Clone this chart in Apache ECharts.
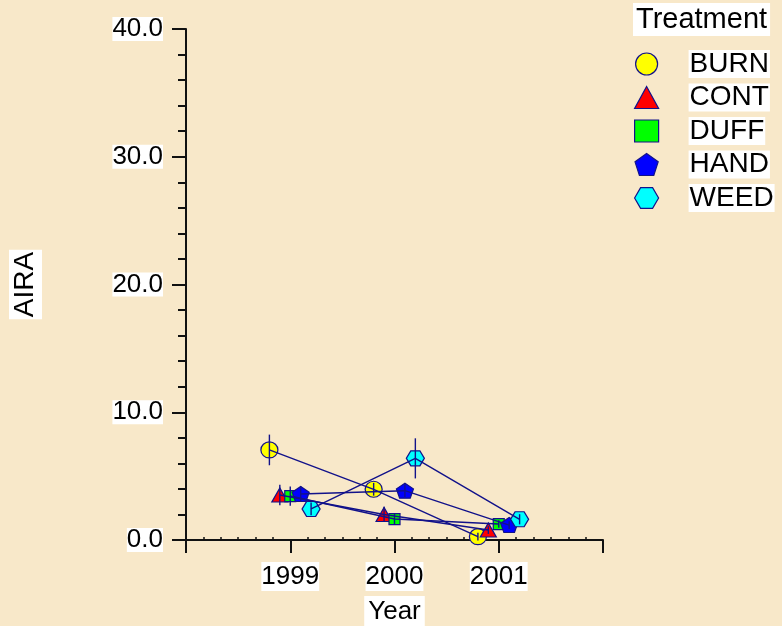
<!DOCTYPE html>
<html><head><meta charset="utf-8">
<script src="https://cdn.jsdelivr.net/npm/echarts@6/dist/echarts.min.js"></script>
<style>html,body{margin:0;padding:0;background:#f8e8c9;}#c{width:782px;height:626px;}</style>
</head><body><div id="c"></div>
<script>
// ---- data ----
const years = [1999, 2000, 2001];
const treatments = ['BURN', 'CONT', 'DUFF', 'HAND', 'WEED'];
const BURN = [7.05, 3.97, 0.26];
const CONT = [3.52, 2.0, 0.78];
const DUFF = [3.44, 1.64, 1.25];
const HAND = [3.6, 3.86, 1.17];
const WEED = [2.43, 6.39, 1.62];
const BURN_err = [1.2, 0.5, 0.3];
const CONT_err = [0.8, 0.6, 0.3];
const DUFF_err = [0.75, 0.4, 0.3];
const HAND_err = [0.6, 0.5, 0.3];
const WEED_err = [0.5, 1.57, 0.4];
const yTicks = [0, 10, 20, 30, 40];
const xTickLabels = ['1999', '2000', '2001'];

const values = {BURN, CONT, DUFF, HAND, WEED};
const errs = {BURN: BURN_err, CONT: CONT_err, DUFF: DUFF_err, HAND: HAND_err, WEED: WEED_err};
const dodge = {BURN: -0.2, CONT: -0.1, DUFF: 0, HAND: 0.1, WEED: 0.2};
const colors = {BURN: '#ffff00', CONT: '#ff0000', DUFF: '#00ff00', HAND: '#0000ff', WEED: '#00ffff'};
const PENT = 'path://M50,0L100,36L81,95L19,95L0,36Z';
const HEX = 'path://M0,43L25,0L75,0L100,43L75,86L25,86Z';
const symbols = {BURN: 'circle', CONT: 'triangle', DUFF: 'rect', HAND: PENT, WEED: HEX};
const sizes = {BURN: [17, 16], CONT: [16, 14], DUFF: [11, 11], HAND: [17, 15], WEED: [18, 15]};
const NAVY = '#12128a';
const FONT = '"Liberation Sans", Arial, sans-serif';

const series = [];
treatments.forEach(t => {
  const pts = years.map((y, i) => [y + dodge[t], values[t][i]]);
  series.push({
    name: t, type: 'scatter', z: 2, data: pts,
    symbol: symbols[t], symbolSize: sizes[t],
    itemStyle: {color: colors[t], borderColor: NAVY, borderWidth: 1.2, opacity: 1}
  });
});
treatments.forEach(t => {
  const pts = years.map((y, i) => [y + dodge[t], values[t][i]]);
  series.push({
    name: t + '_line', type: 'line', z: 3, data: pts, showSymbol: false, symbol: 'none',
    lineStyle: {color: NAVY, width: 1.4}, silent: true
  });
  series.push({
    name: t + '_err', type: 'custom', z: 3, silent: true,
    data: years.map((y, i) => [y + dodge[t], values[t][i] - errs[t][i], values[t][i] + errs[t][i]]),
    renderItem: (params, api) => {
      const lo = api.coord([api.value(0), api.value(1)]);
      const hi = api.coord([api.value(0), api.value(2)]);
      return {type: 'line', shape: {x1: lo[0], y1: lo[1], x2: hi[0], y2: hi[1]},
              style: {stroke: NAVY, lineWidth: 1.4}};
    }
  });
});

const chart = echarts.init(document.getElementById('c'), null, {renderer: 'canvas'});
chart.setOption({
  backgroundColor: '#f8e8c9',
  animation: false,
  textStyle: {fontFamily: FONT},
  title: {
    text: 'Treatment', left: 633, top: 3, padding: [2, 3],
    backgroundColor: '#ffffff',
    textStyle: {fontFamily: FONT, fontSize: 29, fontWeight: 'normal', color: '#000', lineHeight: 29}
  },
  legend: {
    orient: 'vertical', left: 634, top: 50, padding: 0,
    itemWidth: 24, itemHeight: 22, itemGap: 5.5,
    data: treatments.map(t => ({name: t, icon: symbols[t]})),
    itemStyle: {borderColor: NAVY, borderWidth: 1.2},
    formatter: n => '{s| }{t|' + n + '}',
    textStyle: {
      fontFamily: FONT, fontSize: 28, color: '#000',
      rich: {
        s: {width: 25, fontSize: 10},
        t: {fontFamily: FONT, fontSize: 28, color: '#000', backgroundColor: '#ffffff', lineHeight: 27, padding: [0, 1]}
      }
    }
  },
  grid: [
    {left: 186, right: 179, top: 29, bottom: 86, outerBoundsMode: 'none', containLabel: false},
    {left: 186, right: 179, top: 29, bottom: 86, outerBoundsMode: 'none', containLabel: false}
  ],
  xAxis: [{
    type: 'value', gridIndex: 0, min: 1998, max: 2002, interval: 1,
    name: 'Year', nameLocation: 'middle', nameGap: 55,
    nameTextStyle: {fontFamily: FONT, fontSize: 26, color: '#000', backgroundColor: '#ffffff', lineHeight: 31, padding: [0, 4]},
    axisLine: {show: true, lineStyle: {color: '#111', width: 2}},
    axisTick: {show: true, length: 13, lineStyle: {color: '#111', width: 2}},
    splitLine: {show: false},
    axisLabel: {
      margin: 22, fontFamily: FONT, fontSize: 26, color: '#000', backgroundColor: '#ffffff', lineHeight: 29,
      formatter: v => xTickLabels.indexOf(String(v)) >= 0 ? String(v) : ''
    }
  }, {
    type: 'value', gridIndex: 1, min: 1998, max: 2002, interval: 1,
    axisLine: {show: false}, axisLabel: {show: false}, splitLine: {show: false},
    axisTick: {show: false, inside: true},
    minorTick: {show: true, splitNumber: 6, length: 3, lineStyle: {color: '#111', width: 1.5}}
  }],
  yAxis: [{
    type: 'value', gridIndex: 0, min: yTicks[0], max: yTicks[yTicks.length - 1], interval: 10,
    name: 'AIRA', nameLocation: 'middle', nameGap: 144, nameRotate: 90,
    nameTextStyle: {fontFamily: FONT, fontSize: 28, color: '#000', backgroundColor: '#ffffff', lineHeight: 33, padding: [0, 2]},
    axisLine: {show: true, lineStyle: {color: '#111', width: 2}},
    axisTick: {show: true, length: 14, lineStyle: {color: '#111', width: 2}},
    minorTick: {show: true, splitNumber: 5, length: 8, lineStyle: {color: '#111', width: 2}},
    splitLine: {show: false},
    axisLabel: {
      margin: 23, fontFamily: FONT, fontSize: 26, color: '#000', backgroundColor: '#ffffff', lineHeight: 24,
      formatter: v => v.toFixed(1)
    }
  }, {
    type: 'value', gridIndex: 1, min: 0, max: 40, show: false
  }],
  series: series
});
</script></body></html>
